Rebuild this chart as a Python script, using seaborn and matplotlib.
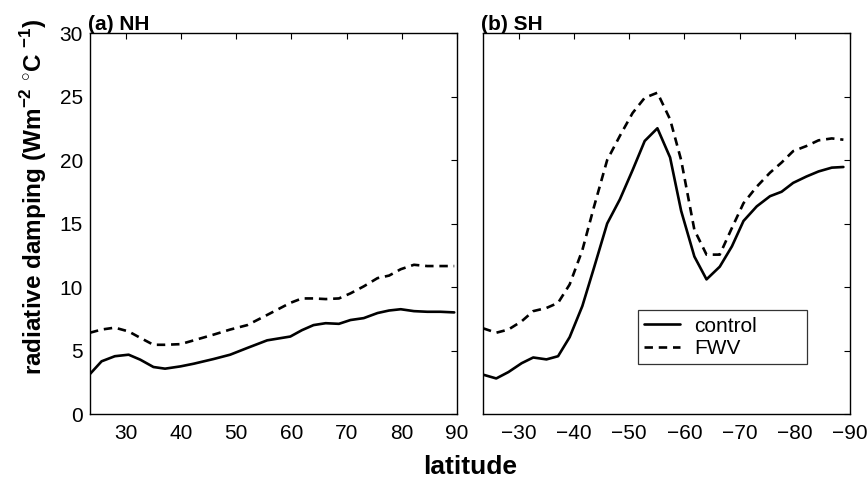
import pandas as pd
import matplotlib
matplotlib.use("Agg")
import matplotlib.pyplot as plt
import seaborn as sns

# latitudes (degrees, absolute)
lat_nh = [23.5, 25.6, 28.0, 30.5, 32.6, 35.0, 37.1, 39.9, 42.3, 45.9, 48.9, 52.0,
          55.6, 59.8, 61.9, 64.0, 66.2, 68.6, 70.7, 73.1, 75.6, 77.7, 79.8, 82.2,
          84.6, 87.0, 89.5]
control_nh = [3.15, 4.15, 4.55, 4.67, 4.28, 3.7, 3.57, 3.75, 3.96, 4.33, 4.67, 5.2,
              5.8, 6.1, 6.6, 7.0, 7.15, 7.1, 7.4, 7.55, 7.95, 8.15, 8.25, 8.1,
              8.05, 8.05, 8.0]
fwv_nh = [6.4, 6.65, 6.8, 6.5, 6.0, 5.45, 5.45, 5.5, 5.8, 6.25, 6.65, 7.0,
          7.8, 8.75, 9.1, 9.1, 9.05, 9.1, 9.5, 10.05, 10.7, 10.9, 11.4, 11.75,
          11.65, 11.65, 11.65]

lat_sh = [23.5, 25.9, 28.1, 30.5, 32.6, 35.0, 37.1, 39.2, 41.5, 43.6, 46.0, 48.3,
          50.6, 52.8, 55.1, 57.4, 59.4, 61.8, 64.0, 66.4, 68.6, 70.7, 73.1, 75.5,
          77.6, 79.7, 82.1, 84.3, 86.7, 88.8]
control_sh = [3.1, 2.8, 3.3, 4.0, 4.45, 4.3, 4.55, 6.05, 8.5, 11.5, 15.0, 16.9,
              19.2, 21.5, 22.5, 20.2, 16.0, 12.4, 10.6, 11.6, 13.2, 15.2, 16.35, 17.15,
              17.5, 18.2, 18.7, 19.1, 19.4, 19.45]
fwv_sh = [6.75, 6.4, 6.65, 7.3, 8.1, 8.35, 8.75, 10.2, 12.9, 16.3, 20.0, 21.9,
          23.7, 24.9, 25.3, 23.2, 20.0, 14.5, 12.55, 12.55, 14.65, 16.6, 17.9, 19.0,
          19.8, 20.7, 21.1, 21.55, 21.7, 21.6]

runs = ["control", "FWV"]

sns.set_theme(style="white")
plt.rcParams["font.family"] = ["Liberation Sans", "DejaVu Sans"]
plt.rcParams["mathtext.fontset"] = "custom"
plt.rcParams["mathtext.rm"] = "Liberation Sans"
plt.rcParams["mathtext.bf"] = "Liberation Sans:bold"
plt.rcParams["text.color"] = "black"
plt.rcParams["axes.labelcolor"] = "black"
plt.rcParams["axes.titlecolor"] = "black"


def long_form(lat, ctl, fwv, sign):
    rows = []
    for name, vals in zip(runs, [ctl, fwv]):
        for la, v in zip(lat, vals):
            rows.append({"lat": sign * la, "damping": v, "run": name})
    return pd.DataFrame(rows)


df_nh = long_form(lat_nh, control_nh, fwv_nh, 1)
df_sh = long_form(lat_sh, control_sh, fwv_sh, -1)

fig = plt.figure(figsize=(8.67, 4.8), dpi=100)
ax1 = fig.add_axes([0.1038, 0.1375, 0.4233, 0.7937])
ax2 = fig.add_axes([0.5571, 0.1375, 0.4233, 0.7937])

dash_map = {"control": "", "FWV": (3.2, 2.2)}
for ax, df in [(ax1, df_nh), (ax2, df_sh)]:
    sns.lineplot(data=df, x="lat", y="damping", style="run", dashes=dash_map,
                 color="black", linewidth=1.9, sort=False, estimator=None,
                 ax=ax, legend=(ax is ax2))
    ax.set_ylim(0, 30)
    ax.set_yticks([0, 5, 10, 15, 20, 25, 30])
    ax.set_xlabel("")
    ax.set_ylabel("")
    ax.tick_params(direction="in", top=True, right=True, length=4, width=0.8,
                   labelsize=15, colors="black")
    ax.tick_params(axis="x", pad=7)
    ax.tick_params(axis="y", pad=5)
    for s in ax.spines.values():
        s.set_color("black")
        s.set_linewidth(1.0)

ax1.set_xlim(23.5, 90)
ax1.set_xticks([30, 40, 50, 60, 70, 80, 90])
ax2.set_xlim(-23.5, -90)
ax2.set_xticks([-30, -40, -50, -60, -70, -80, -90])
ax2.set_yticklabels([])

ax1.set_title("(a) NH", loc="left", fontsize=15, fontweight="bold", pad=2, x=-0.005)
ax2.set_title("(b) SH", loc="left", fontsize=15, fontweight="bold", pad=2, x=-0.005)

ax1.set_ylabel(r"radiative damping (Wm$^{\mathbf{-2}}$ $^{\circ}$C $^{\mathbf{-1}}$)",
               fontsize=17.5, fontweight="bold")
ax1.yaxis.set_label_coords(-0.112, 0.57)
fig.text(0.542, 0.003, "latitude", ha="center", va="bottom", fontsize=19, fontweight="bold")

leg = ax2.legend(loc="lower left", bbox_to_anchor=(0.422, 0.131, 0.46, 0.142),
                 mode="expand", fontsize=15, frameon=True, fancybox=False,
                 edgecolor="black", handlelength=1.7, handletextpad=0.7,
                 borderpad=0.3, labelspacing=0.15, borderaxespad=0)
leg.get_frame().set_linewidth(0.9)
for h in leg.get_lines():
    h.set_color("black")
    h.set_linewidth(1.9)

fig.savefig("out.png", dpi=100)
